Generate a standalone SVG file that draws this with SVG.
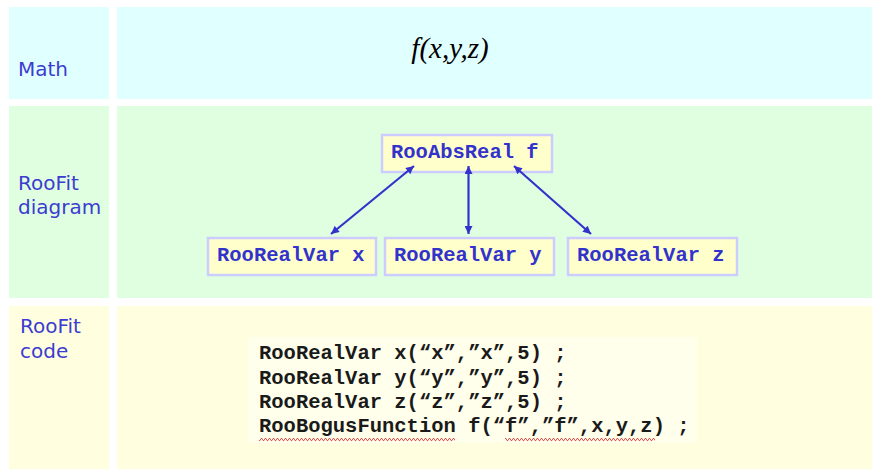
<svg xmlns="http://www.w3.org/2000/svg" width="872" height="469" viewBox="0 0 872 469">
<style>
.lbl{font-family:"DejaVu Sans","Liberation Sans",sans-serif;font-size:20px;fill:#3c3cd0}
.node rect{fill:#ffffcc;stroke:#ccccff;stroke-width:2.5}
.node text{font-family:"Liberation Mono","Courier New",monospace;font-weight:bold;font-size:20.5px;fill:#3333cc}
.code{font-family:"Liberation Mono","Courier New",monospace;font-weight:bold;font-size:20.5px;fill:#1a1a1a}
.conn line{stroke:#3333cc;stroke-width:2.2}
</style>
<defs>
<marker id="ah" viewBox="0 0 10 10" refX="10" refY="5" markerWidth="9" markerHeight="8" markerUnits="userSpaceOnUse" orient="auto-start-reverse">
<path d="M0,0 L10,5 L0,10 Z" fill="#3333cc"/>
</marker>
<pattern id="sq" x="0" y="0" width="4" height="3" patternUnits="userSpaceOnUse">
<polyline points="0,2.5 1,0.5 2,0.5 3,2.5 4,2.5" fill="none" stroke="#e04040" stroke-width="0.9"/>
</pattern>
</defs>
<rect width="872" height="469" fill="#ffffff"/>
<g id="panels">
<rect x="9" y="7" width="100" height="92" fill="#e0ffff"/>
<rect x="117" y="7" width="755" height="92" fill="#e0ffff"/>
<rect x="9" y="106" width="100" height="192" fill="#e0ffe0"/>
<rect x="117" y="106" width="755" height="192" fill="#e0ffe0"/>
<rect x="9" y="306" width="100" height="163" fill="#ffffe0"/>
<rect x="117" y="306" width="755" height="163" fill="#ffffe0"/>
</g>
<g id="labels">
<text class="lbl" x="18" y="76">Math</text>
<text class="lbl" x="18" y="190">RooFit</text>
<text class="lbl" x="18" y="214">diagram</text>
<text class="lbl" x="20" y="333">RooFit</text>
<text class="lbl" x="20" y="358">code</text>
</g>
<g id="math">
<text x="450" y="58" text-anchor="middle" font-family="'Liberation Serif','Times New Roman',serif" font-style="italic" font-size="29" fill="#000">f(x,y,z)</text>
</g>
<g class="node" id="node-f">
<rect x="382" y="135" width="170" height="37"/>
<text x="391" y="158">RooAbsReal f</text>
</g>
<g class="node" id="node-x">
<rect x="208" y="238" width="168" height="37"/>
<text x="217" y="261">RooRealVar x</text>
</g>
<g class="node" id="node-y">
<rect x="385" y="238" width="169" height="37"/>
<text x="394" y="261">RooRealVar y</text>
</g>
<g class="node" id="node-z">
<rect x="568" y="238" width="169" height="37"/>
<text x="577" y="261">RooRealVar z</text>
</g>
<g class="conn" id="connectors">
<line x1="331" y1="234" x2="414" y2="166" marker-start="url(#ah)" marker-end="url(#ah)"/>
<line x1="468.5" y1="234" x2="468.5" y2="166" marker-start="url(#ah)" marker-end="url(#ah)"/>
<line x1="591" y1="234" x2="514" y2="166" marker-start="url(#ah)" marker-end="url(#ah)"/>
</g>
<g id="code">
<rect x="248" y="337" width="449" height="106" fill="#ffffec"/>
<text class="code" x="259" y="359">RooRealVar x(“x”,”x”,5) ;</text>
<text class="code" x="259" y="383.5">RooRealVar y(“y”,”y”,5) ;</text>
<text class="code" x="259" y="408">RooRealVar z(“z”,”z”,5) ;</text>
<text class="code" x="259" y="432">RooBogusFunction f(“f”,”f”,x,y,z) ;</text>
<rect x="259" y="438" width="196" height="3" fill="url(#sq)"/>
<rect x="505" y="438" width="150" height="3" fill="url(#sq)"/>
</g>
</svg>
